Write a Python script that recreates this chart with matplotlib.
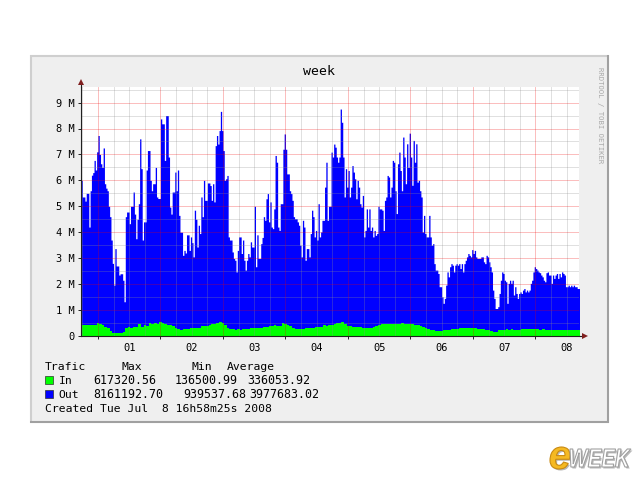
import numpy as np
import matplotlib
matplotlib.use('Agg')
import matplotlib.pyplot as plt
from matplotlib.patches import Rectangle, Polygon, PathPatch
from matplotlib.lines import Line2D
from matplotlib.textpath import TextPath
from matplotlib.font_manager import FontProperties
from matplotlib.transforms import Affine2D, IdentityTransform

# ---------------- data (values in M) ----------------
START_HOUR = -6.5          # hours relative to Jul 01 00:00 (first sample)
OUT_STEP_HOURS = 0.5       # outbound samples every 30 min
IN_STEP_HOURS = 1.0        # inbound samples every hour
END_DAY = 7.696            # graph end (days after Jul 01 00:00)

out_m = [6.0, 5.36, 5.36, 5.2, 5.5, 5.5, 4.2, 5.6, 6.2, 6.3,
         6.77, 6.4, 7.1, 7.73, 7.0, 6.64, 6.5, 7.25, 5.87, 5.7,
         5.6, 5.0, 4.6, 3.7, 2.8, 1.96, 3.37, 2.7, 2.7, 2.35,
         2.4, 2.4, 2.15, 1.32, 4.6, 4.78, 4.78, 4.33, 5.0, 5.0,
         5.55, 4.7, 3.75, 4.5, 5.1, 7.6, 6.45, 3.7, 4.4, 4.4,
         6.4, 7.15, 7.15, 6.0, 5.6, 5.87, 5.87, 6.5, 5.36, 5.3,
         5.3, 8.37, 8.18, 8.18, 6.77, 8.5, 8.5, 6.9, 4.97, 4.7,
         5.55, 5.55, 6.32, 5.6, 6.4, 4.65, 4.0, 4.0, 3.11, 3.3,
         3.2, 3.9, 3.9, 3.3, 3.82, 3.6, 3.05, 4.85, 4.5, 3.43,
         4.27, 3.95, 5.36, 4.6, 6.0, 5.23, 5.23, 5.9, 5.9, 5.8,
         5.23, 5.87, 5.17, 7.34, 7.73, 7.4, 7.92, 8.66, 7.92, 7.15,
         6.0, 6.06, 6.19, 3.82, 3.7, 3.7, 3.24, 2.99, 2.92, 2.47,
         3.3, 3.82, 3.82, 3.18, 3.7, 2.92, 2.54, 2.92, 3.18, 3.05,
         3.63, 3.43, 3.43, 5.0, 2.67, 3.9, 2.99, 2.99, 3.56, 3.8,
         4.6, 4.46, 5.29, 5.49, 4.4, 5.17, 4.2, 4.14, 4.9, 6.96,
         6.7, 4.2, 4.07, 5.1, 5.1, 7.2, 7.79, 7.2, 6.25, 6.25,
         5.6, 5.49, 5.23, 4.6, 4.52, 4.52, 4.4, 4.27, 3.5, 3.05,
         4.46, 4.2, 2.92, 3.37, 3.37, 3.05, 3.95, 4.85, 4.6, 3.82,
         4.07, 3.7, 5.1, 3.82, 4.01, 4.46, 4.46, 5.74, 6.7, 4.46,
         5.0, 5.0, 7.09, 6.9, 7.4, 7.28, 6.9, 6.7, 6.9, 8.75,
         8.24, 6.9, 5.36, 6.45, 5.74, 6.38, 5.36, 5.74, 6.57, 6.32,
         6.06, 5.29, 6.0, 5.74, 5.1, 4.97, 5.42, 3.82, 4.07, 4.9,
         4.2, 4.9, 4.07, 4.2, 3.82, 4.07, 3.88, 3.95, 5.0, 4.9,
         4.9, 4.85, 4.07, 5.23, 5.36, 6.19, 6.13, 5.36, 5.74, 6.77,
         6.7, 5.6, 4.72, 6.64, 7.09, 6.38, 5.6, 7.67, 6.9, 5.87,
         7.41, 6.5, 7.82, 6.9, 5.81, 7.54, 6.7, 7.41, 5.93, 6.0,
         5.6, 5.36, 4.01, 4.65, 3.95, 3.82, 3.82, 4.65, 3.82, 3.5,
         3.56, 2.79, 2.54, 2.54, 2.41, 1.9, 1.9, 1.51, 1.26, 1.45,
         1.96, 2.47, 2.28, 2.67, 2.79, 2.73, 2.47, 2.73, 2.79, 2.73,
         2.79, 2.6, 2.79, 2.47, 2.79, 2.92, 3.05, 3.18, 3.11, 3.05,
         3.33, 3.18, 3.3, 3.05, 2.99, 2.99, 2.99, 3.05, 3.05, 2.86,
         2.79, 3.11, 3.05, 2.86, 2.67, 2.47, 1.77, 1.45, 1.06, 1.06,
         1.13, 1.64, 2.15, 2.47, 2.41, 2.15, 2.09, 1.26, 2.03, 2.15,
         2.03, 2.15, 1.58, 1.9, 1.64, 1.45, 1.64, 1.7, 1.64, 1.77,
         1.83, 1.7, 1.77, 1.7, 1.77, 2.03, 2.15, 2.47, 2.67, 2.6,
         2.54, 2.47, 2.44, 2.35, 2.28, 2.15, 2.09, 2.44, 2.47, 2.35,
         2.35, 2.03, 2.35, 2.22, 2.35, 2.41, 2.22, 2.41, 2.28, 2.47,
         2.41, 2.35, 1.9, 1.9, 1.96, 1.9, 1.96, 1.9, 1.96, 1.9,
         1.9, 1.83, 1.83]

in_m = [0.42, 0.43, 0.41, 0.42, 0.43, 0.42, 0.49, 0.45, 0.42, 0.35, 0.3, 0.2, 0.13, 0.12, 0.13, 0.12,
        0.14, 0.3, 0.33, 0.32, 0.34, 0.36, 0.46, 0.36, 0.42, 0.4, 0.49, 0.47, 0.5, 0.48, 0.54, 0.5,
        0.46, 0.44, 0.42, 0.38, 0.3, 0.26, 0.25, 0.27, 0.26, 0.28, 0.3, 0.29, 0.31, 0.32, 0.38, 0.37,
        0.38, 0.42, 0.46, 0.47, 0.5, 0.55, 0.5, 0.42, 0.3, 0.26, 0.26, 0.25, 0.26, 0.25, 0.27, 0.26,
        0.27, 0.3, 0.29, 0.31, 0.3, 0.3, 0.34, 0.36, 0.37, 0.38, 0.42, 0.39, 0.4, 0.49, 0.45, 0.42,
        0.38, 0.32, 0.28, 0.26, 0.27, 0.26, 0.3, 0.29, 0.3, 0.3, 0.34, 0.36, 0.36, 0.42, 0.4, 0.43,
        0.42, 0.45, 0.49, 0.52, 0.55, 0.45, 0.4, 0.38, 0.36, 0.35, 0.34, 0.33, 0.32, 0.3, 0.31, 0.32,
        0.35, 0.38, 0.42, 0.45, 0.47, 0.46, 0.48, 0.46, 0.47, 0.45, 0.48, 0.5, 0.47, 0.46, 0.48, 0.45,
        0.44, 0.42, 0.38, 0.33, 0.3, 0.27, 0.24, 0.22, 0.21, 0.2, 0.21, 0.22, 0.24, 0.25, 0.26, 0.27,
        0.28, 0.29, 0.3, 0.3, 0.3, 0.29, 0.3, 0.29, 0.28, 0.27, 0.26, 0.25, 0.24, 0.18, 0.15, 0.16,
        0.22, 0.24, 0.25, 0.26, 0.25, 0.26, 0.25, 0.24, 0.25, 0.26, 0.27, 0.27, 0.26, 0.26, 0.27, 0.26,
        0.25, 0.26, 0.25, 0.25, 0.24, 0.25, 0.25, 0.24, 0.24, 0.23, 0.24, 0.23, 0.23, 0.22, 0.23, 0.22]

day_labels = ['01', '02', '03', '04', '05', '06', '07', '08']
y_tick_values = [0, 1, 2, 3, 4, 5, 6, 7, 8, 9]

legend_header = ['Trafic', 'Max', 'Min', 'Average']
in_stats = ['617320.56', '136500.99', '336053.92']
out_stats = ['8161192.70', '939537.68', '3977683.02']
created_text = 'Created Tue Jul  8 16h58m25s 2008'
title_text = 'week'
side_text = 'RRDTOOL / TOBI OETIKER'

# ---------------- figure ----------------
W, H = 640, 480
fig = plt.figure(figsize=(6.4, 4.8), dpi=100)
fig.patch.set_facecolor('white')
MONO = 'DejaVu Sans Mono'

def fx(x):
    return x / W

def fy(y):
    return 1 - y / H

def fline(x0, y0, x1, y1, color, lw, z=5):
    fig.add_artist(Line2D([fx(x0), fx(x1)], [fy(y0), fy(y1)], transform=fig.transFigure,
                          color=color, lw=lw, zorder=z, solid_capstyle='butt'))

# panel background and shaded frame
fig.add_artist(Rectangle((fx(30), fy(423)), fx(609) - fx(30), fy(55) - fy(423),
                         transform=fig.transFigure, facecolor='#EFEFEF', edgecolor='none', zorder=0))
fline(30, 56, 609, 56, '#CFCFCF', 1.5)
fline(31, 55, 31, 423, '#CFCFCF', 1.5)
fline(608, 55, 608, 423, '#A0A0A0', 1.5)
fline(30, 422, 609, 422, '#A0A0A0', 1.5)

# plot axes
ax = fig.add_axes([fx(81), fy(336), fx(579) - fx(81), fy(87) - fy(336)])
ax.set_facecolor('white')

def step_area(values, step_h, color, z):
    v = np.asarray(values, dtype=float) * 1e6
    t = (START_HOUR + np.arange(len(v)) * step_h) / 24.0
    te = np.append(t, t[-1] + step_h / 24.0)
    ax.fill_between(te, np.append(v, v[-1]), step='post', color=color, lw=0, zorder=z)

step_area(out_m, OUT_STEP_HOURS, '#0000FF', 1)
step_area(in_m, IN_STEP_HOURS, '#00FF00', 1.5)

x0 = START_HOUR / 24.0
ax.set_xlim(x0, END_DAY)
ax.set_ylim(0, 9.6e6)

# grid (drawn over the data, translucent like rrdtool)
minor_x = np.arange(np.ceil(x0 * 4) / 4, END_DAY, 0.25)
major_x = np.arange(0, 8)
minor_y = np.arange(0.5, 9.6, 1.0) * 1e6
major_y = np.array(y_tick_values[1:]) * 1e6
GRID = dict(color=(0.56, 0.56, 0.56), alpha=0.30, lw=0.65, zorder=3)
MGRID = dict(color=(0.94, 0.0, 0.0), alpha=0.28, lw=0.65, zorder=3.2)
for xv in minor_x:
    if abs(xv - round(xv)) > 1e-6:
        ax.axvline(xv, **GRID)
for yv in minor_y:
    ax.axhline(yv, **GRID)
for xv in major_x:
    ax.axvline(xv, **MGRID)
for yv in major_y:
    ax.axhline(yv, **MGRID)

ax.set_xticks(major_x)
ax.set_yticks(np.array(y_tick_values) * 1e6)
ax.set_yticklabels(['0' if v == 0 else f'{v} M' for v in y_tick_values],
                   fontfamily=MONO, fontsize=7.5)
ax.set_xticklabels([])
ax.tick_params(which='major', length=2.2, width=0.7, color='#202020', pad=2.5)
ax.tick_params(which='minor', length=0)

for s in ['top', 'right']:
    ax.spines[s].set_visible(False)
for s in ['left', 'bottom']:
    ax.spines[s].set_color('#202020')
    ax.spines[s].set_linewidth(0.8)
    ax.spines[s].set_zorder(4)

# day labels centred at noon
for k, lab in enumerate(day_labels):
    ax.text(k + 0.5, -0.05, lab, transform=ax.get_xaxis_transform(), ha='center', va='center',
            fontfamily=MONO, fontsize=7.5, color='black', clip_on=False)

# axis extensions and arrows
fline(81, 87, 81, 83, '#202020', 0.8)
fline(579, 336, 584, 336, '#202020', 0.8)
fig.add_artist(Polygon([[fx(78), fy(85)], [fx(84), fy(85)], [fx(81), fy(79)]], closed=True,
                       transform=fig.transFigure, facecolor='#802020', edgecolor='none', zorder=6))
fig.add_artist(Polygon([[fx(582), fy(333)], [fx(582), fy(339)], [fx(588), fy(336)]], closed=True,
                       transform=fig.transFigure, facecolor='#802020', edgecolor='none', zorder=6))

# title and side text
fig.text(fx(319), fy(75), title_text, ha='center', va='baseline', fontfamily=MONO, fontsize=9.5)
fig.text(fx(600), fy(115), side_text, ha='center', va='center', rotation=270,
         fontfamily=MONO, fontsize=5.2, color='#A8A8A8')

# legend
FS = 8.2
def ftxt(x, y, s, fs=FS):
    fig.text(fx(x), fy(y), s, ha='left', va='baseline', fontfamily=MONO, fontsize=fs)

hx = [45, 121.5, 192, 226.5]
for x, s in zip(hx, legend_header):
    ftxt(x, 370, s)

fig.add_artist(Rectangle((fx(45), fy(384)), 8 / W, 8 / H, transform=fig.transFigure,
                         facecolor='#00FF00', edgecolor='#303030', lw=0.5, zorder=5))
fig.add_artist(Rectangle((fx(45), fy(398)), 8 / W, 8 / H, transform=fig.transFigure,
                         facecolor='#0000FF', edgecolor='#303030', lw=0.5, zorder=5))
ftxt(58.5, 384, 'In')
ftxt(58.5, 398, 'Out')
for x, s in zip([93.5, 175, 247], in_stats):
    ftxt(x, 384, s, 8.4)
for x, s in zip([93.5, 183, 249], out_stats):
    ftxt(x, 398, s, 8.4)
ftxt(45, 412, created_text)

# eWEEK logo (text paths squeezed into the logo's box, pixel coords from top-left)
LOGO_FP = FontProperties(family='Liberation Sans', weight='bold', style='italic')

def logo_word(s, left, top, right, bottom, face, edge, lw, shadow=False):
    tp = TextPath((0, 0), s, size=40, prop=LOGO_FP)
    ext = tp.get_extents()
    sx = (right - left) / ext.width
    sy = (bottom - top) / ext.height
    tr = (Affine2D().translate(-ext.x0, -ext.y0).scale(sx, sy)
          .translate(left, H - bottom))
    path = tr.transform_path(tp)
    if shadow:
        sh = Affine2D().translate(1.5, -1.5).transform_path(path)
        fig.add_artist(PathPatch(sh, transform=IdentityTransform(), facecolor='#9A9A9A',
                                 edgecolor='none', alpha=0.7, zorder=7))
    fig.add_artist(PathPatch(path, transform=IdentityTransform(), facecolor=face,
                             edgecolor=edge, lw=lw, zorder=8))

logo_word('e', 550, 447, 570, 469, '#F5B922', '#C98A12', 0.8, shadow=True)
logo_word('WEEK', 570, 449, 631, 467, '#FFFFFF', '#A0A0A0', 0.8, shadow=True)

fig.savefig('out.png', dpi=100, facecolor='white')
